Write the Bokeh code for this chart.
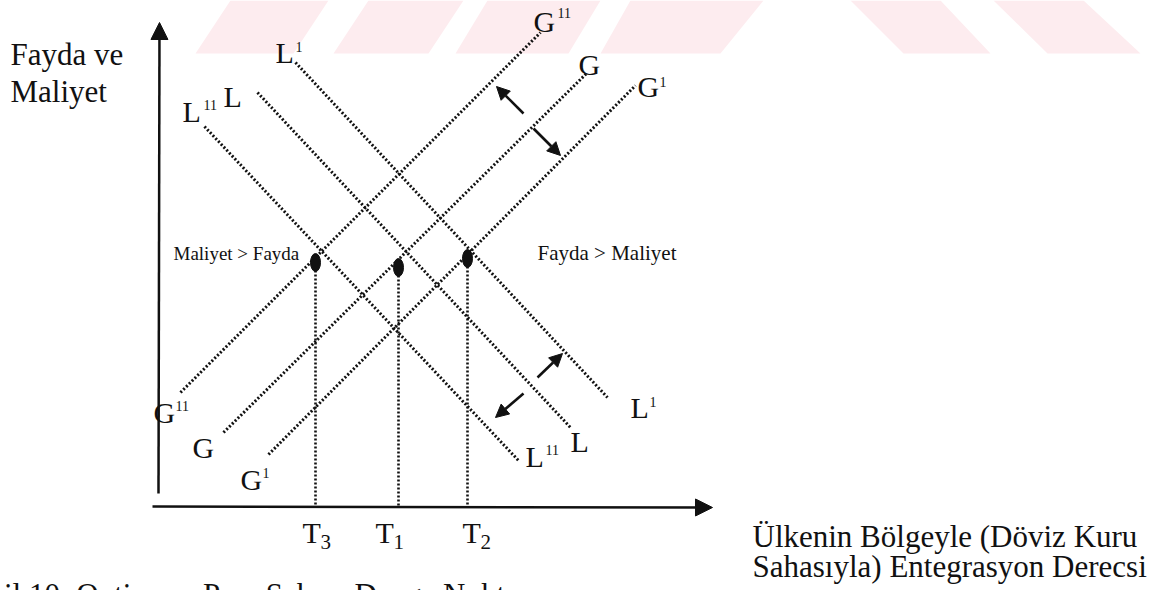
from bokeh.plotting import figure
from bokeh.models import Range1d, Arrow, NormalHead, ColumnDataSource
from bokeh.core.properties import value
from bokeh.embed import file_html
from bokeh.resources import INLINE

# ---- diagram data (reference pixel space, y grows downward) ----
# Schedules: L (falling) and G (rising)
curve_names = ["L1", "L", "L11", "G11", "G", "G1"]
curve_x0 = [295, 257, 204, 180, 223, 268]
curve_y0 = [62, 92, 126, 392, 432, 454]
curve_x1 = [607, 570, 518, 540, 587, 635]
curve_y1 = [397, 427, 460, 32, 72, 85]

# equilibrium points T3, T1, T2
eq_names = ["3", "1", "2"]
eq_x = [315, 398, 467]
eq_y = [262, 267, 258]
axis_y = 505

# shift arrows (tail x, tail y, tip x, tip y)
shift_x0 = [523, 533, 537, 523]
shift_y0 = [113, 128, 377, 393]
shift_x1 = [496, 560, 562, 495]
shift_y1 = [86, 155, 353, 417]

# curve labels: main letter, left x, baseline y
lab_text = ["L", "L", "L", "G", "G", "G", "G", "G", "G", "L", "L", "L"]
lab_x = [275, 182, 223, 533, 578, 637, 153, 192, 240, 630, 570, 525]
lab_y = [63, 122, 107, 32, 75, 97, 423, 458, 490, 418, 452, 467]
# superscripts: L1 top, L11 left, G11 top, G1 top, G11 bottom, G1 bottom, L1 right, L11 right
sup_text = ["1", "11", "11", "1", "11", "1", "1", "11"]
sup_x = [295, 203, 557, 659, 175, 262, 649, 545]
sup_y = [52, 110, 18, 87, 411, 478, 407, 455]

# watermark stripes (top-left, top-right, bottom-right, bottom-left x)
wm_top_l = [230, 368, 487, 630, 850, 993]
wm_top_r = [328, 463, 600, 763, 940, 1083]
wm_bot_r = [293, 428, 568, 720, 990, 1140]
wm_bot_l = [195, 333, 455, 600, 903, 1047]

FONT = value("Liberation Serif")
INK = "#111111"


def base(ys, size):
    # compensate the renderer's baseline offset
    return [y - 0.36 * size for y in ys]


p = figure(width=1162, height=590, x_range=Range1d(0, 1162), y_range=Range1d(590, 0),
           output_backend="svg", toolbar_location=None, min_border=0,
           x_axis_location=None, y_axis_location=None)
p.grid.visible = False
p.outline_line_color = None
p.background_fill_color = "white"
p.border_fill_color = "white"

# watermark
xs = [[a, b, c, d] for a, b, c, d in zip(wm_top_l, wm_top_r, wm_bot_r, wm_bot_l)]
ys = [[0, 0, 53, 53] for _ in wm_top_l]
p.patches(xs, ys, fill_color="#fdecef", line_color=None)

# dotted schedules
src = ColumnDataSource(dict(x0=curve_x0, y0=curve_y0, x1=curve_x1, y1=curve_y1, name=curve_names))
p.segment("x0", "y0", "x1", "y1", source=src, line_color=INK, line_width=3, line_dash="2 2")

# vertical dotted drops
p.segment(eq_x, eq_y, eq_x, [axis_y] * len(eq_x), line_color=INK, line_width=2.6, line_dash="2 2")
p.ellipse(eq_x, eq_y, width=10, height=18, fill_color=INK, line_color=INK)

# axes
p.add_layout(Arrow(end=NormalHead(size=17, fill_color=INK, line_color=INK),
                   x_start=158, y_start=493, x_end=159, y_end=22, line_width=2.5, line_color=INK))
p.add_layout(Arrow(end=NormalHead(size=17, fill_color=INK, line_color=INK),
                   x_start=152, y_start=506, x_end=712, y_end=507, line_width=2.5, line_color=INK))

# shift arrows
for a, b, c, d in zip(shift_x0, shift_y0, shift_x1, shift_y1):
    p.add_layout(Arrow(end=NormalHead(size=13, fill_color=INK, line_color=INK),
                       x_start=a, y_start=b, x_end=c, y_end=d, line_width=2.6, line_color=INK))

# labels
p.text(lab_x, base(lab_y, 30), text=lab_text, text_font=FONT, text_font_size="30px",
       text_color=INK, text_baseline="alphabetic", text_align="left")
p.text(sup_x, base(sup_y, 14), text=sup_text, text_font=FONT, text_font_size="14px",
       text_color=INK, text_baseline="alphabetic", text_align="left")

# T labels
t_x = [302, 375, 462]
p.text(t_x, base([543] * 3, 30), text=["T"] * 3, text_font=FONT, text_font_size="30px",
       text_color=INK, text_baseline="alphabetic")
p.text([x + 18 for x in t_x], base([549] * 3, 21), text=eq_names, text_font=FONT,
       text_font_size="21px", text_color=INK, text_baseline="alphabetic")

# region texts
p.text([173], base([260], 19), text=["Maliyet > Fayda"], text_font=FONT, text_font_size="19px",
       text_color=INK, text_baseline="alphabetic")
p.text([537], base([260], 21), text=["Fayda > Maliyet"], text_font=FONT, text_font_size="21px",
       text_color=INK, text_baseline="alphabetic")

# axis titles
p.text([10, 10], base([65, 102], 31), text=["Fayda ve", "Maliyet"], text_font=FONT,
       text_font_size="31px", text_color=INK, text_baseline="alphabetic")
p.text([752, 752], base([547, 577], 31),
       text=["Ülkenin Bölgeyle (Döviz Kuru", "Sahasıyla) Entegrasyon Derecsi"],
       text_font=FONT, text_font_size="31px", text_color=INK, text_baseline="alphabetic")

# caption (cut off at the bottom in the source)
p.text([-43], [594], text=["Şekil 10: Optimum Para Sahası Denge Noktası"], text_font=FONT,
       text_font_size="31px", text_color=INK, text_baseline="alphabetic")

open("out.html", "w").write(file_html(p, INLINE))
